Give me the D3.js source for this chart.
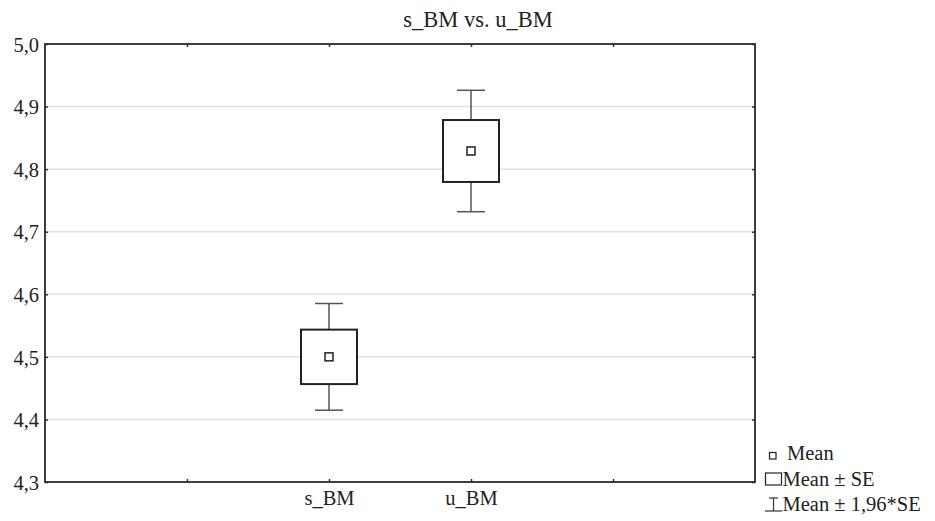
<!DOCTYPE html>
<html>
<head>
<meta charset="utf-8">
<script src="https://cdn.jsdelivr.net/npm/d3@7"></script>
<style>
  html, body { margin: 0; padding: 0; background: #fff; }
  svg { display: block; }
</style>
</head>
<body>
<svg id="chart" width="935" height="521"></svg>
<script>
// Variables and summary statistics
const categories = ["s_BM", "u_BM"];
const means = [4.500, 4.829];
const stdErrors = [0.0435, 0.0495];
const yTicks = [4.3, 4.4, 4.5, 4.6, 4.7, 4.8, 4.9, 5.0];
const xSlots = ["", "s_BM", "u_BM", ""]; // axis positions, outer two unlabelled
const titleText = "s_BM vs. u_BM";
const legendLabels = ["Mean", "Mean ± SE", "Mean ± 1,96*SE"];

const FS = 20.5;
const FONT = "'Liberation Serif', 'Times New Roman', Tinos, serif";
const svg = d3.select("#chart");
const m = { left: 45, right: 755, top: 44, bottom: 482 };

const styleText = sel => sel
  .style("font-family", FONT).style("fill", "#222").style("font-size", FS + "px");

const x = d3.scalePoint().domain(d3.range(xSlots.length)).range([m.left, m.right]).padding(1);
const y = d3.scaleLinear().domain([4.3, 5.0]).range([m.bottom, m.top]);
const fmt = v => d3.format(".1f")(v).replace(".", ",");

// horizontal grid
svg.append("g").selectAll("line").data(yTicks.slice(1, -1)).join("line")
  .attr("x1", m.left).attr("x2", m.right)
  .attr("y1", d => y(d)).attr("y2", d => y(d))
  .attr("stroke", "#e0e0e0").attr("stroke-width", 1.5);

// axes with inward ticks
const yAxis = d3.axisLeft(y).tickValues(yTicks).tickFormat(fmt).tickSize(-3).tickPadding(6);
const gy = svg.append("g").attr("transform", `translate(${m.left},0)`).call(yAxis);
gy.select(".domain").remove();
gy.selectAll("text").call(styleText).attr("dy", "0.35em");
gy.selectAll("line").attr("stroke", "#333").attr("stroke-width", 1.5);

const gyr = svg.append("g").attr("transform", `translate(${m.right},0)`)
  .call(d3.axisRight(y).tickValues(yTicks).tickSize(-3).tickFormat(""));
gyr.select(".domain").remove();
gyr.selectAll("line").attr("stroke", "#333").attr("stroke-width", 1.5);

const gx = svg.append("g").attr("transform", `translate(0,${m.bottom})`)
  .call(d3.axisBottom(x).tickSize(-3).tickPadding(8).tickFormat(i => xSlots[i]));
gx.select(".domain").remove();
gx.selectAll("text").call(styleText);
gx.selectAll("line").attr("stroke", "#333").attr("stroke-width", 1.5);

const gxt = svg.append("g").attr("transform", `translate(0,${m.top})`)
  .call(d3.axisTop(x).tickSize(-3).tickFormat(""));
gxt.select(".domain").remove();
gxt.selectAll("line").attr("stroke", "#333").attr("stroke-width", 1.5);

// frame
svg.append("rect")
  .attr("x", m.left).attr("y", m.top)
  .attr("width", m.right - m.left).attr("height", m.bottom - m.top)
  .attr("fill", "none").attr("stroke", "#2a2a2a").attr("stroke-width", 1.8);

// title
svg.append("text").attr("x", 478).attr("y", 27).attr("text-anchor", "middle")
  .call(styleText).style("font-size", "22.5px").text(titleText);

// box-whisker marks
const data = categories.map((c, i) => ({ c, mean: means[i], se: stdErrors[i], pos: x(xSlots.indexOf(c)) }));
const boxW = 56, capW = 28, mk = 8;
const g = svg.append("g").selectAll("g").data(data).join("g");

g.append("line").attr("x1", d => d.pos).attr("x2", d => d.pos)
  .attr("y1", d => y(d.mean + 1.96 * d.se)).attr("y2", d => y(d.mean + d.se))
  .attr("stroke", "#555").attr("stroke-width", 1.5);
g.append("line").attr("x1", d => d.pos).attr("x2", d => d.pos)
  .attr("y1", d => y(d.mean - d.se)).attr("y2", d => y(d.mean - 1.96 * d.se))
  .attr("stroke", "#555").attr("stroke-width", 1.5);
[1.96, -1.96].forEach(k => {
  g.append("line").attr("x1", d => d.pos - capW / 2).attr("x2", d => d.pos + capW / 2)
    .attr("y1", d => y(d.mean + k * d.se)).attr("y2", d => y(d.mean + k * d.se))
    .attr("stroke", "#555").attr("stroke-width", 1.5);
});
g.append("rect")
  .attr("x", d => d.pos - boxW / 2).attr("width", boxW)
  .attr("y", d => y(d.mean + d.se)).attr("height", d => y(d.mean - d.se) - y(d.mean + d.se))
  .attr("fill", "#fff").attr("stroke", "#222").attr("stroke-width", 2);
g.append("rect")
  .attr("x", d => d.pos - mk / 2).attr("y", d => y(d.mean) - mk / 2)
  .attr("width", mk).attr("height", mk)
  .attr("fill", "#fff").attr("stroke", "#222").attr("stroke-width", 1.5);

// legend
const lg = svg.append("g");
lg.append("rect").attr("x", 769.5).attr("y", 452.5).attr("width", 6.5).attr("height", 6.5)
  .attr("fill", "#fff").attr("stroke", "#222").attr("stroke-width", 1.2);
lg.append("rect").attr("x", 765.5).attr("y", 473).attr("width", 16).attr("height", 12)
  .attr("fill", "#fff").attr("stroke", "#222").attr("stroke-width", 1.2);
lg.append("line").attr("x1", 773.5).attr("x2", 773.5).attr("y1", 498).attr("y2", 511).attr("stroke", "#333").attr("stroke-width", 1.2);
lg.append("line").attr("x1", 765).attr("x2", 782).attr("y1", 511).attr("y2", 511).attr("stroke", "#333").attr("stroke-width", 1.2);
lg.append("line").attr("x1", 769).attr("x2", 778).attr("y1", 498).attr("y2", 498).attr("stroke", "#333").attr("stroke-width", 1.2);
lg.selectAll("text").data(legendLabels).join("text")
  .attr("x", (d, i) => i === 0 ? 787 : 782.5).attr("y", (d, i) => 460 + i * 25.5)
  .call(styleText).text(d => d);
</script>
</body>
</html>
